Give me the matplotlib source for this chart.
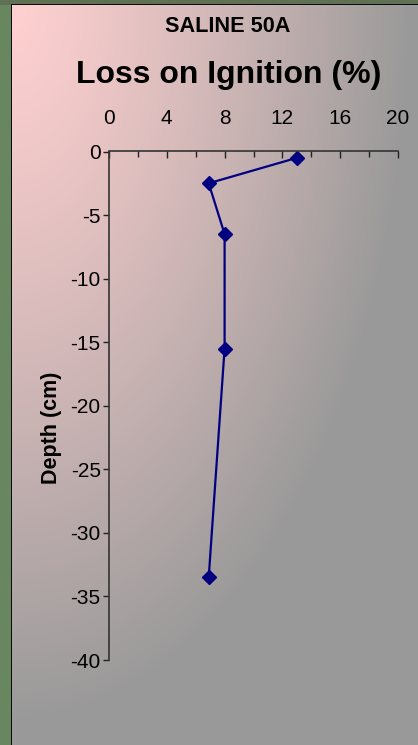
#! /usr/bin/env python3

"Loss on ignition profile for core SALINE 50A"

import numpy as np
import matplotlib
matplotlib.use("Agg")
import matplotlib.pyplot as plt
from matplotlib.ticker import MultipleLocator

# data
loi_pct = [13.0, 6.9, 8.0, 8.0, 6.9]
depth_cm = [-0.5, -2.5, -6.5, -15.5, -33.5]
x_ticks = [0, 4, 8, 12, 16, 20]
y_ticks = [0, -5, -10, -15, -20, -25, -30, -35, -40]

plt.rcParams['font.family'] = ['Liberation Sans', 'DejaVu Sans']
plt.rcParams['axes.unicode_minus'] = False

W, H = 418, 745
fig = plt.figure(figsize=(W / 100, H / 100), dpi=100)

# background: photo strip + pink/grey gradient panel
bg = fig.add_axes([0, 0, 1, 1])
bg.set_axis_off()
yy, xx = np.mgrid[0:H, 0:W]
t = np.clip(np.sqrt(((xx - 12) / 400.0) ** 2 + ((yy - 5) / 720.0) ** 2), 0, 1)
t = t ** 1.2
pink = np.array([255, 208, 208]) / 255.0
grey = np.array([153, 153, 153]) / 255.0
img = pink * (1 - t[..., None]) + grey * t[..., None]
img[:, :12] = np.array([104, 134, 96]) / 255.0
img[:5, :] = np.array([96, 112, 84]) / 255.0
img[5:, 11] = 0.05
img[4, 11:] = 0.05
bg.imshow(img, extent=[0, W, H, 0], aspect='auto', interpolation='nearest')
bg.set_xlim(0, W)
bg.set_ylim(H, 0)

ax = fig.add_axes([109 / W, 1 - 660 / H, 289 / W, 508.5 / H])
ax.set_facecolor('none')
ax.plot(loi_pct, depth_cm, color='#000080', lw=1.6, marker='D', ms=7,
        markeredgecolor='#000080', markerfacecolor='#000080', clip_on=False)

ax.set_xlim(0, 20)
ax.set_ylim(-40, 0)
ax.set_xticks(x_ticks)
ax.xaxis.set_minor_locator(MultipleLocator(2))
ax.set_yticks(y_ticks)
ax.xaxis.tick_top()
ax.tick_params(axis='x', which='major', direction='in', length=5, width=1,
               labelsize=15, pad=17, color='#222222')
ax.tick_params(axis='x', which='minor', direction='in', length=4, width=1,
               color='#222222')
ax.tick_params(axis='y', direction='out', length=4, width=1, labelsize=15,
               pad=2, color='#222222')
for s in ['right', 'bottom']:
    ax.spines[s].set_visible(False)
for s in ['left', 'top']:
    ax.spines[s].set_color('#333333')
    ax.spines[s].set_linewidth(1.2)

fig.text(228 / W, 1 - 32 / H, "SALINE 50A", ha='center', va='baseline',
         fontsize=11.2 * 100 / 72, fontweight='bold')
fig.text(229 / W, 1 - 83 / H, "Loss on Ignition (%)", ha='center',
         va='baseline', fontsize=23, fontweight='bold')
fig.text(51 / W, 1 - 428 / H, "Depth (cm)", ha='center', va='center',
         rotation=90, fontsize=15.5, fontweight='bold')

fig.savefig("out.png", dpi=100)
